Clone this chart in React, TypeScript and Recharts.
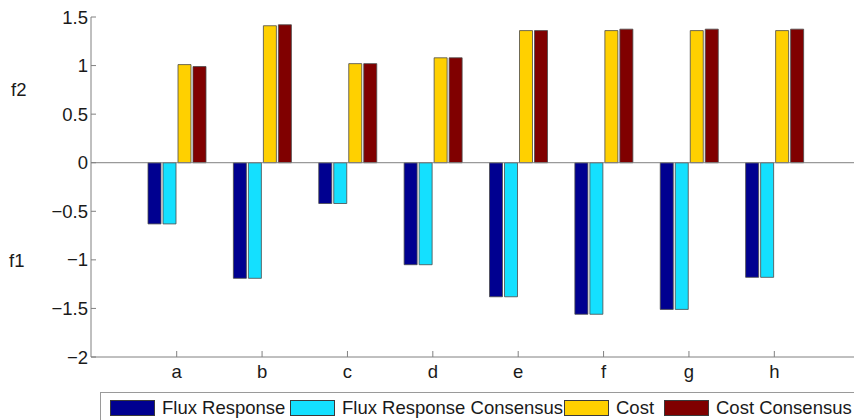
import React from 'react';
import { BarChart, Bar, XAxis, YAxis, ReferenceLine } from 'recharts';

const categories = ['a', 'b', 'c', 'd', 'e', 'f', 'g', 'h'];
const fluxResponse = [-0.63, -1.19, -0.42, -1.05, -1.38, -1.56, -1.51, -1.18];
const fluxResponseConsensus = [-0.63, -1.19, -0.42, -1.05, -1.38, -1.56, -1.51, -1.18];
const cost = [1.01, 1.41, 1.02, 1.08, 1.36, 1.36, 1.36, 1.36];
const costConsensus = [0.99, 1.42, 1.02, 1.08, 1.36, 1.375, 1.375, 1.375];
const yTicks = [-2, -1.5, -1, -0.5, 0, 0.5, 1, 1.5];
const seriesNames = ['Flux Response', 'Flux Response Consensus', 'Cost', 'Cost Consensus'];

const COLORS = ['#000090', '#14E0FF', '#FFD000', '#800000'];
const AXIS = '#808080';
const FONT = '"Liberation Sans", Arial, sans-serif';
const TEXT = '#1a1a1a';
const FS = 18.5;

const data = categories.map((name, i) => ({
    name,
    flux: fluxResponse[i],
    fluxCons: fluxResponseConsensus[i],
    cost: cost[i],
    costCons: costConsensus[i],
}));

const keys = ['flux', 'fluxCons', 'cost', 'costCons'];

const fmt = (v: number) => String(v).replace('-', '\u2212');

const YTick = (props: any) => {
    const { x, y, payload } = props;
    return (
        <g>
            <line x1={x} x2={x + 5} y1={y} y2={y} stroke={AXIS} />
            <text x={x - 3} y={y + 6.5} textAnchor="end" fontSize={FS} fill={TEXT} fontFamily={FONT}>
                {fmt(payload.value)}
            </text>
        </g>
    );
};

const BottomTick = (props: any) => {
    const { x, y, payload } = props;
    return (
        <g>
            <line x1={x} x2={x} y1={y} y2={y - 6} stroke={AXIS} />
            <text x={x} y={y + 21} textAnchor="middle" fontSize={FS} fill={TEXT} fontFamily={FONT}>
                {payload.value}
            </text>
        </g>
    );
};

const TopTick = (props: any) => {
    const { x, y } = props;
    return <line x1={x} x2={x} y1={y} y2={y + 6} stroke={AXIS} />;
};

const legendX = [9, 189, 463, 563];

export default function App() {
    return (
        <div
            style={{
                position: 'fixed',
                left: 0,
                top: 0,
                width: 854,
                height: 420,
                overflow: 'hidden',
                background: '#fff',
                fontFamily: FONT,
            }}
        >
            <BarChart
                width={880}
                height={420}
                data={data}
                margin={{ top: 17, right: 20, bottom: 0, left: 0 }}
                barSize={13}
                barGap={2}
            >
                <XAxis
                    dataKey="name"
                    height={63}
                    stroke={AXIS}
                    tickSize={0}
                    tickMargin={0}
                    tick={<BottomTick />}
                    padding={{ left: 43, right: 43 }}
                    interval={0}
                />
                <XAxis
                    xAxisId="top"
                    dataKey="name"
                    orientation="top"
                    height={0}
                    stroke={AXIS}
                    tickSize={0}
                    tickMargin={0}
                    tick={<TopTick />}
                    padding={{ left: 43, right: 43 }}
                    interval={0}
                />
                <YAxis
                    width={91}
                    domain={[-2, 1.5]}
                    ticks={yTicks}
                    stroke={AXIS}
                    tickSize={0}
                    tickMargin={0}
                    tick={<YTick />}
                    interval={0}
                    allowDataOverflow
                />
                <ReferenceLine y={0} stroke={AXIS} />
                {keys.map((k, i) => (
                    <Bar
                        key={k}
                        dataKey={k}
                        name={seriesNames[i]}
                        fill={COLORS[i]}
                        stroke="#4a4a4a"
                        strokeWidth={0.8}
                        isAnimationActive={false}
                    />
                ))}
            </BarChart>

            <div style={{ position: 'absolute', left: 11, top: 80, fontSize: FS, lineHeight: '20px', color: TEXT }}>f2</div>
            <div style={{ position: 'absolute', left: 9, top: 251, fontSize: FS, lineHeight: '20px', color: TEXT }}>f1</div>

            <div
                style={{
                    position: 'absolute',
                    left: 100,
                    top: 392,
                    width: 800,
                    height: 60,
                    border: '1px solid #9a9a9a',
                    background: '#fff',
                }}
            >
                {seriesNames.map((name, i) => (
                    <div key={name} style={{ position: 'absolute', left: legendX[i], top: 6, height: 18, display: 'flex', alignItems: 'center' }}>
                        <div
                            style={{
                                width: 45,
                                height: 16,
                                background: COLORS[i],
                                border: '1px solid #3a3a3a',
                                boxSizing: 'border-box',
                            }}
                        />
                        <span style={{ marginLeft: 7, fontSize: FS, color: TEXT, whiteSpace: 'nowrap', lineHeight: '18px' }}>{name}</span>
                    </div>
                ))}
            </div>
        </div>
    );
}
